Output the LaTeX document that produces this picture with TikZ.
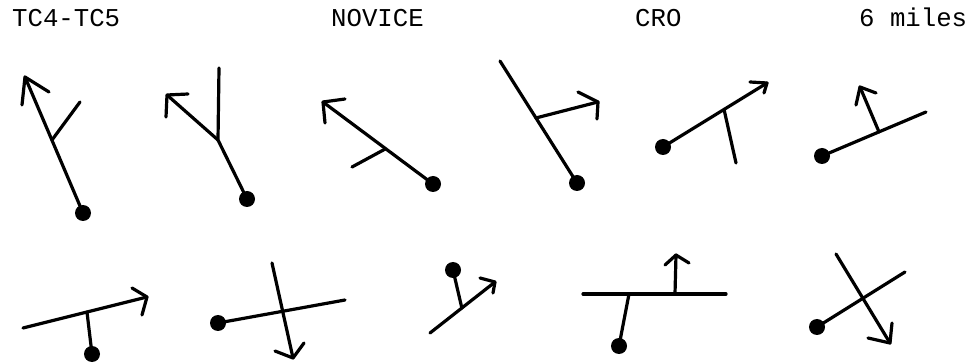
\documentclass[tikz,border=0pt]{standalone}
\usepackage{fontspec}
\usetikzlibrary{calc}
\newfontfamily\monof{Liberation Mono}
\begin{document}
\begin{tikzpicture}[x=1pt,y=-1pt,
  stroke/.style={line width=3.2pt,line cap=round,line join=round},
  dotmark/.style={fill=black},
  hdr/.style={anchor=base west,inner sep=0pt,font=\monof\fontsize{25.7}{30}\selectfont}]
\useasboundingbox (0,0) rectangle (972,363);
% header texts
\node[hdr] (t1) at (12,27) {TC4-TC5};
\node[hdr] (t2) at (331,27) {NOVICE};
\node[hdr] (t3) at (635,27) {CRO};
\node[hdr] (t4) at (859,27) {6 miles};

% glyph 1
\coordinate (d1) at (83,213); \coordinate (a1) at (25,77);
\coordinate (j1) at ($(d1)!0.536!(a1)$);
\draw[stroke] (d1) -- (a1);
\draw[stroke] (j1) -- (80,102);
\draw[stroke] (49,92) -- (a1) -- (22,105);
\fill[dotmark] (d1) circle (8pt);

% glyph 2
\coordinate (d2) at (247,199); \coordinate (j2) at (218,140); \coordinate (a2) at (167,95);
\draw[stroke] (d2) -- (j2) -- (219,68);
\draw[stroke] (j2) -- (a2);
\draw[stroke] (188,94) -- (a2) -- (166,117);
\fill[dotmark] (d2) circle (8pt);

% glyph 3
\coordinate (d3) at (433,184); \coordinate (a3) at (323,102);
\coordinate (j3) at ($(d3)!0.43!(a3)$);
\draw[stroke] (d3) -- (a3);
\draw[stroke] (j3) -- (352,167);
\draw[stroke] (345,99) -- (a3) -- (325,123);
\fill[dotmark] (d3) circle (8pt);

% glyph 4
\coordinate (d4) at (577,183); \coordinate (e4) at (500,61);
\coordinate (j4) at ($(d4)!0.533!(e4)$); \coordinate (a4) at (598,102);
\draw[stroke] (d4) -- (e4);
\draw[stroke] (j4) -- (a4);
\draw[stroke] (578,92) -- (a4) -- (597,119);
\fill[dotmark] (d4) circle (8pt);

% glyph 5
\coordinate (d5) at (663,147); \coordinate (a5) at (767,83);
\coordinate (j5) at ($(d5)!0.587!(a5)$);
\draw[stroke] (d5) -- (a5);
\draw[stroke] (j5) -- (736,163);
\draw[stroke] (750,82) -- (a5) -- (764,93);
\fill[dotmark] (d5) circle (8pt);

% glyph 6
\coordinate (d6) at (822,156); \coordinate (e6) at (926,112);
\coordinate (j6) at ($(d6)!0.548!(e6)$); \coordinate (a6) at (860,87);
\draw[stroke] (d6) -- (e6);
\draw[stroke] (j6) -- (a6);
\draw[stroke] (856,105) -- (a6) -- (876,93);
\fill[dotmark] (d6) circle (8pt);

% glyph 7
\coordinate (s7) at (23,328); \coordinate (a7) at (147,297);
\coordinate (j7) at ($(s7)!0.516!(a7)$); \coordinate (d7) at (92,354);
\draw[stroke] (s7) -- (a7);
\draw[stroke] (j7) -- (d7);
\draw[stroke] (132,288) -- (a7) -- (142,315);
\fill[dotmark] (d7) circle (8pt);

% glyph 8
\coordinate (d8) at (218,323); \coordinate (e8) at (345,300);
\coordinate (s8) at (272,263); \coordinate (a8) at (293,358);
\draw[stroke] (d8) -- (e8);
\draw[stroke] (s8) -- (a8);
\draw[stroke] (275,351) -- (a8) -- (304,343);
\fill[dotmark] (d8) circle (8pt);

% glyph 9
\coordinate (s9) at (430,333); \coordinate (a9) at (495,282);
\coordinate (j9) at ($(s9)!0.49!(a9)$); \coordinate (d9) at (453,270);
\draw[stroke] (s9) -- (a9);
\draw[stroke] (j9) -- (d9);
\draw[stroke] (480,278) -- (a9) -- (493,293);
\fill[dotmark] (d9) circle (8pt);

% glyph 10
\coordinate (s10) at (583,294); \coordinate (e10) at (726,294);
\coordinate (j10) at (629,294); \coordinate (d10) at (619,346);
\coordinate (k10) at (675,294); \coordinate (a10) at (676,255);
\draw[stroke] (s10) -- (e10);
\draw[stroke] (j10) -- (d10);
\draw[stroke] (k10) -- (a10);
\draw[stroke] (665,265) -- (a10) -- (689,263);
\fill[dotmark] (d10) circle (8pt);

% glyph 11
\coordinate (d11) at (817,327); \coordinate (e11) at (905,272);
\coordinate (s11) at (836,254); \coordinate (a11) at (890,343);
\draw[stroke] (d11) -- (e11);
\draw[stroke] (s11) -- (a11);
\draw[stroke] (868,338) -- (a11) -- (892,323);
\fill[dotmark] (d11) circle (8pt);
\end{tikzpicture}
\end{document}
